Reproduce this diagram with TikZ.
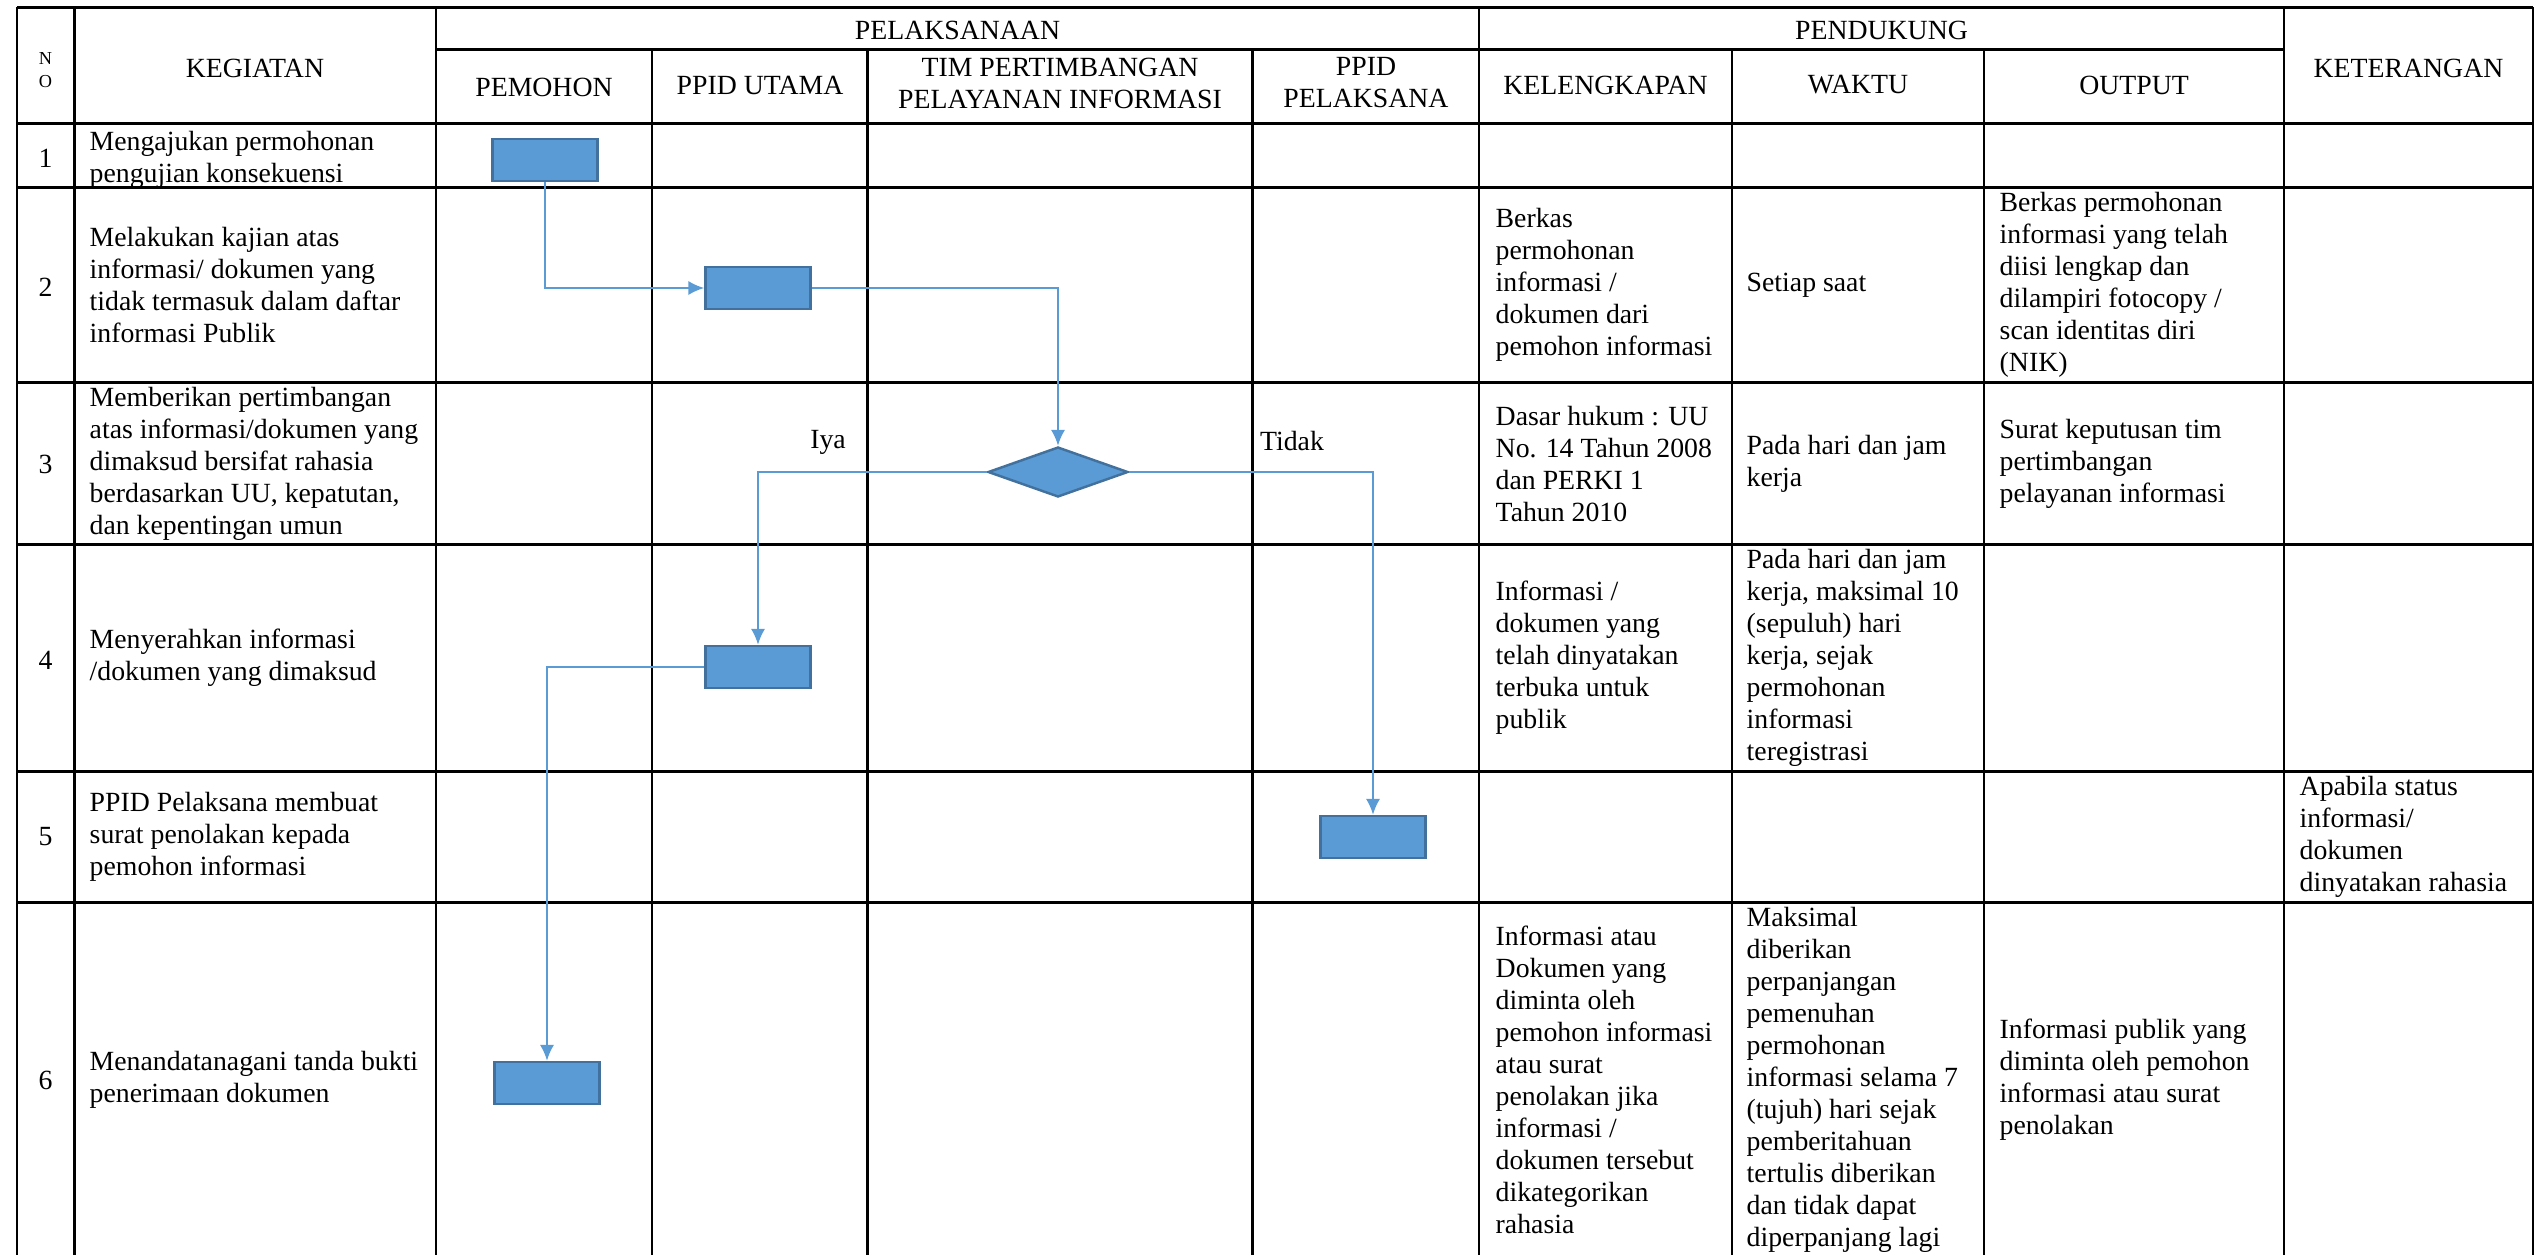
\documentclass[tikz,border=0pt]{standalone}
\usepackage{fontspec}
\setmainfont{Liberation Serif}
\usetikzlibrary{shapes.geometric,arrows.meta}
\definecolor{boxblue}{HTML}{5B9BD5}
\definecolor{boxedge}{HTML}{41719C}

\begin{document}
\begin{tikzpicture}[
		rule/.style={line width=0.6pt},
		hrule/.style={line width=0.85pt},
		txt/.style={inner sep=0pt, align=left, anchor=west, font=\fontsize{7.9}{9.1}\selectfont},
		hdr/.style={inner sep=0pt, align=center, font=\fontsize{7.9}{9.1}\selectfont},
		hdrsmall/.style={inner sep=0pt, align=center, font=\fontsize{5.2}{6.5}\selectfont},
		proc/.style={draw=boxedge, line width=0.7pt, fill=boxblue, minimum width=1.05cm, minimum height=0.42cm, inner sep=0pt},
		choice/.style={diamond, draw=boxedge, line width=0.7pt, fill=boxblue, minimum width=1.4cm, minimum height=0.5cm, inner sep=0pt},
		flow/.style={draw=boxblue, line width=0.6pt, -{Latex[length=4.5pt,width=4pt]}}
	]
		\useasboundingbox (0,0) rectangle (25.4,-12.55);
		% table frame
		% horizontal lines
		\draw[hrule] (0.17,-0.07) -- (25.33,-0.07);
		\draw[hrule] (4.36,-0.49) -- (22.84,-0.49);
		\draw[hrule] (0.17,-1.23) -- (25.33,-1.23);
		\draw[hrule] (0.17,-1.87) -- (25.33,-1.87);
		\draw[hrule] (0.17,-3.82) -- (25.33,-3.82);
		\draw[hrule] (0.17,-5.44) -- (25.33,-5.44);
		\draw[hrule] (0.17,-7.71) -- (25.33,-7.71);
		\draw[hrule] (0.17,-9.02) -- (25.33,-9.02);
		% vertical lines
		\draw[rule] (0.17,-0.07) -- (0.17,-12.55);
		\draw[rule] (0.745,-0.07) -- (0.745,-12.55);
		\draw[rule] (4.36,-0.07) -- (4.36,-12.55);
		\draw[rule] (6.52,-0.49) -- (6.52,-12.55);
		\draw[rule] (8.675,-0.49) -- (8.675,-12.55);
		\draw[rule] (12.525,-0.49) -- (12.525,-12.55);
		\draw[rule] (14.79,-0.07) -- (14.79,-12.55);
		\draw[rule] (17.32,-0.49) -- (17.32,-12.55);
		\draw[rule] (19.84,-0.49) -- (19.84,-12.55);
		\draw[rule] (22.84,-0.07) -- (22.84,-12.55);
		\draw[rule] (25.33,-0.07) -- (25.33,-12.55);

		% header
		\node[hdrsmall] (no) at (0.455,-0.70) {N\\O};
		\node[hdr] (kegiatan) at (2.55,-0.68) {KEGIATAN};
		\node[hdr] (pelaksanaan) at (9.575,-0.30) {PELAKSANAAN};
		\node[hdr] (pendukung) at (18.815,-0.30) {PENDUKUNG};
		\node[hdr] (pemohon) at (5.44,-0.87) {PEMOHON};
		\node[hdr] (utama) at (7.60,-0.85) {PPID UTAMA};
		\node[hdr] (tim) at (10.60,-0.83) {TIM PERTIMBANGAN\\PELAYANAN INFORMASI};
		\node[hdr] (pelaksana) at (13.66,-0.83) {PPID\\PELAKSANA};
		\node[hdr] (kelengkapan) at (16.055,-0.85) {KELENGKAPAN};
		\node[hdr] (waktu) at (18.58,-0.85) {WAKTU};
		\node[hdr] (output) at (21.34,-0.85) {OUTPUT};
		\node[hdr] (keterangan) at (24.085,-0.68) {KETERANGAN};

		% step numbers
		\node[hdr] (n1) at (0.455,-1.58) {1};
		\node[hdr] (n2) at (0.455,-2.87) {2};
		\node[hdr] (n3) at (0.455,-4.64) {3};
		\node[hdr] (n4) at (0.455,-6.60) {4};
		\node[hdr] (n5) at (0.455,-8.37) {5};
		\node[hdr] (n6) at (0.455,-10.80) {6};

		% kegiatan
		\node[txt] (keg1) at (0.89,-1.60) {Mengajukan permohonan\\pengujian konsekuensi};
		\node[txt] (keg2) at (0.89,-2.85) {Melakukan kajian atas\\informasi/ dokumen yang\\tidak termasuk dalam daftar\\informasi Publik};
		\node[txt] (keg3) at (0.89,-4.64) {Memberikan pertimbangan\\atas informasi/dokumen yang\\dimaksud bersifat rahasia\\berdasarkan UU, kepatutan,\\dan kepentingan umun};
		\node[txt] (keg4) at (0.89,-6.58) {Menyerahkan informasi\\/dokumen yang dimaksud};
		\node[txt] (keg5) at (0.89,-8.37) {PPID Pelaksana membuat\\surat penolakan kepada\\pemohon informasi};
		\node[txt] (keg6) at (0.89,-10.80) {Menandatanagani tanda bukti\\penerimaan dokumen};

		% kelengkapan
		\node[txt] (kel2) at (14.95,-2.85) {Berkas\\permohonan\\informasi /\\dokumen dari\\pemohon informasi};
		\node[txt] (kel3) at (14.95,-4.64) {Dasar hukum : UU\\No. 14 Tahun 2008\\dan PERKI 1\\Tahun 2010};
		\node[txt] (kel4) at (14.95,-6.58) {Informasi /\\dokumen yang\\telah dinyatakan\\terbuka untuk\\publik};
		\node[txt] (kel6) at (14.95,-10.80) {Informasi atau\\Dokumen yang\\diminta oleh\\pemohon informasi\\atau surat\\penolakan jika\\informasi /\\dokumen tersebut\\dikategorikan\\rahasia};

		% waktu
		\node[txt] (wak2) at (17.46,-2.85) {Setiap saat};
		\node[txt] (wak3) at (17.46,-4.64) {Pada hari dan jam\\kerja};
		\node[txt] (wak4) at (17.46,-6.58) {Pada hari dan jam\\kerja, maksimal 10\\(sepuluh) hari\\kerja, sejak\\permohonan\\informasi\\teregistrasi};
		\node[txt] (wak6) at (17.46,-10.80) {Maksimal\\diberikan\\perpanjangan\\pemenuhan\\permohonan\\informasi selama 7\\(tujuh) hari sejak\\pemberitahuan\\tertulis diberikan\\dan tidak dapat\\diperpanjang lagi};

		% output
		\node[txt] (out2) at (19.99,-2.85) {Berkas permohonan\\informasi yang telah\\diisi lengkap dan\\dilampiri fotocopy /\\scan identitas diri\\(NIK)};
		\node[txt] (out3) at (19.99,-4.64) {Surat keputusan tim\\pertimbangan\\pelayanan informasi};
		\node[txt] (out6) at (19.99,-10.80) {Informasi publik yang\\diminta oleh pemohon\\informasi atau surat\\penolakan};

		% keterangan
		\node[txt] (ket5) at (22.99,-8.37) {Apabila status\\informasi/\\dokumen\\dinyatakan rahasia};

		% flow
		\node[proc] (b1) at (5.45,-1.60) {};
		\node[proc] (b2) at (7.58,-2.88) {};
		\node[choice] (d3) at (10.58,-4.72) {};
		\node[proc] (b4) at (7.58,-6.67) {};
		\node[proc] (b5) at (13.73,-8.37) {};
		\node[proc] (b6) at (5.47,-10.83) {};
		\node[hdr] (iya) at (8.28,-4.42) {Iya};
		\node[hdr] (tidak) at (12.92,-4.41) {Tidak};

		\draw[flow] (b1.south) |- (b2.west);
		\draw[flow] (b2.east) -| (d3.north);
		\draw[flow] (d3.west) -| (b4.north);
		\draw[flow] (d3.east) -| (b5.north);
		\draw[flow] (b4.west) -| (b6.north);
	\end{tikzpicture}
\end{document}
